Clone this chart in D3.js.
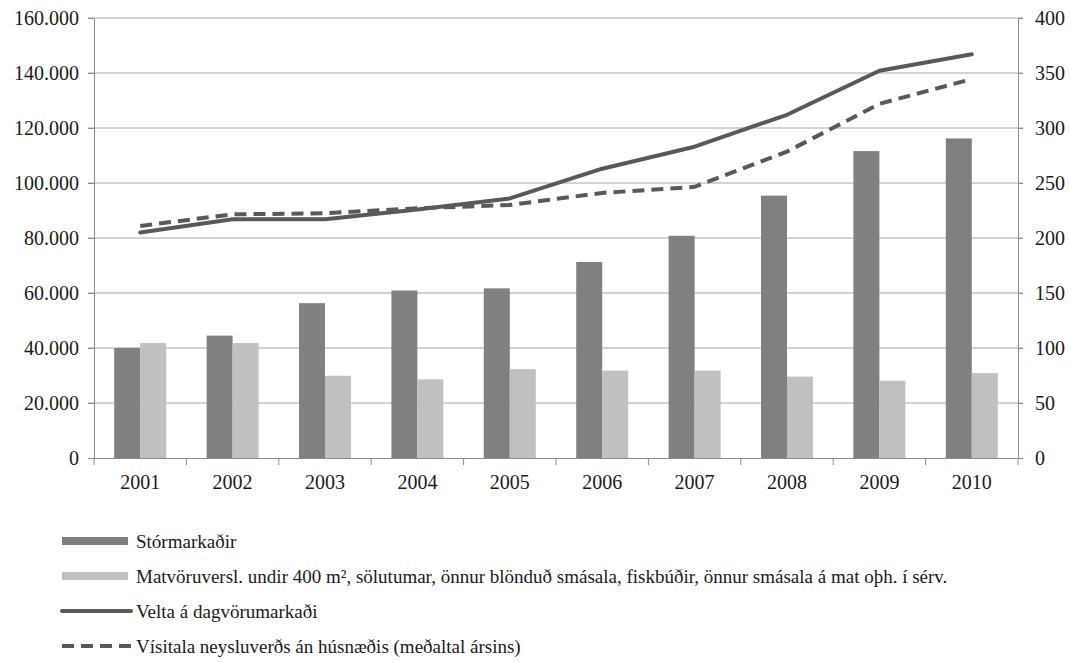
<!DOCTYPE html>
<html>
<head>
<meta charset="utf-8">
<script src="https://cdn.jsdelivr.net/npm/d3@7"></script>
</head>
<body style="margin:0">
<svg id="chart" width="1071" height="662"></svg>
<script>
// data
const years = ["2001", "2002", "2003", "2004", "2005", "2006", "2007", "2008", "2009", "2010"];
const stormarkadir = [40000, 44500, 56300, 60900, 61700, 71300, 80800, 95400, 111600, 116200];
const smaverslanir = [41800, 41800, 29900, 28600, 32300, 31800, 31800, 29600, 28100, 30900];
const velta = [205, 217, 217, 226, 236, 263, 283, 312, 352, 367];
const visitala = [211, 221.5, 222.5, 227, 230, 241, 246.5, 278.5, 322, 344.5];
const leftTicks = [0, 20000, 40000, 60000, 80000, 100000, 120000, 140000, 160000];
const rightTicks = [0, 50, 100, 150, 200, 250, 300, 350, 400];
const legendNames = [
  "Stórmarkaðir",
  "Matvöruversl. undir 400 m², sölutumar, önnur blönduð smásala, fiskbúðir, önnur smásala á mat oþh. í sérv.",
  "Velta á dagvörumarkaði",
  "Vísitala neysluverðs án húsnæðis (meðaltal ársins)"
];

const svg = d3.select("#chart");
const m = { left: 94, right: 1018, top: 18, bottom: 458 };

const x = d3.scaleBand().domain(years).range([m.left, m.right]);
const y = d3.scaleLinear().domain([0, 160000]).range([m.bottom, m.top]);
const y2 = d3.scaleLinear().domain([0, 400]).range([m.bottom, m.top]);
const barW = 26;

const fmt = d => d === 0 ? "0" : d3.format(",")(d).replace(/,/g, ".");

// gridlines (stick out a bit on both sides like tick marks)
svg.append("g").selectAll("line").data(leftTicks.slice(1)).join("line")
  .attr("x1", m.left - 6).attr("x2", m.right + 5)
  .attr("y1", d => y(d)).attr("y2", d => y(d))
  .attr("stroke", "#a6a6a6").attr("stroke-width", 1);

// bars
svg.append("g").selectAll("rect").data(stormarkadir).join("rect")
  .attr("x", (d, i) => x(years[i]) + x.bandwidth() / 2 - barW)
  .attr("y", d => y(d)).attr("width", barW).attr("height", d => m.bottom - y(d))
  .attr("fill", "#808080");
svg.append("g").selectAll("rect").data(smaverslanir).join("rect")
  .attr("x", (d, i) => x(years[i]) + x.bandwidth() / 2)
  .attr("y", d => y(d)).attr("width", barW).attr("height", d => m.bottom - y(d))
  .attr("fill", "#c0c0c0");

function styleAxis(g) {
  g.attr("font-family", null).attr("font-size", null);
  g.selectAll("line, path").attr("stroke", "#8c8c8c");
  g.selectAll("text")
    .style("font-family", d => "'Times New Roman'")
    .style("font-size", "20px")
    .attr("fill", "#1a1a1a");
}

// axes
svg.append("g").attr("transform", `translate(${m.left},0)`)
  .call(d3.axisLeft(y).tickValues(leftTicks).tickFormat(fmt).tickSize(6).tickPadding(9))
  .call(styleAxis);

svg.append("g").attr("transform", `translate(${m.right},0)`)
  .call(d3.axisRight(y2).tickValues(rightTicks).tickSize(5).tickPadding(12))
  .call(styleAxis);

svg.append("g").attr("transform", `translate(0,${m.bottom})`)
  .call(d3.axisBottom(x).tickSize(0).tickPadding(17))
  .call(styleAxis);
// category separators
svg.append("g").selectAll("line").data(d3.range(years.length + 1)).join("line")
  .attr("x1", i => m.left + i * x.step()).attr("x2", i => m.left + i * x.step())
  .attr("y1", m.bottom).attr("y2", m.bottom + 7)
  .attr("stroke", "#8c8c8c");

// lines
const line = d3.line().x((d, i) => x(years[i]) + x.bandwidth() / 2).y(d => y2(d));
svg.append("path").datum(velta).attr("d", line)
  .attr("fill", "none").attr("stroke", "#595959").attr("stroke-width", 4)
  .attr("stroke-linejoin", "round").attr("stroke-linecap", "round");
svg.append("path").datum(visitala).attr("d", line)
  .attr("fill", "none").attr("stroke", "#595959").attr("stroke-width", 4)
  .attr("stroke-dasharray", "12,7").attr("stroke-linecap", "butt");

// legend
const legendY = [541, 576, 611, 646];
const lg = svg.append("g");
lg.append("rect").attr("x", 62).attr("y", legendY[0] - 4).attr("width", 66).attr("height", 8).attr("fill", "#808080");
lg.append("rect").attr("x", 62).attr("y", legendY[1] - 4).attr("width", 66).attr("height", 8).attr("fill", "#c0c0c0");
lg.append("line").attr("x1", 62).attr("x2", 131).attr("y1", legendY[2]).attr("y2", legendY[2])
  .attr("stroke", "#595959").attr("stroke-width", 4).attr("stroke-linecap", "round");
lg.append("line").attr("x1", 62).attr("x2", 131).attr("y1", legendY[3]).attr("y2", legendY[3])
  .attr("stroke", "#595959").attr("stroke-width", 4).attr("stroke-dasharray", "12,7");
lg.selectAll("text").data(legendNames).join("text")
  .attr("x", 136).attr("y", (d, i) => legendY[i]).attr("dy", "0.35em")
  .style("font-family", d => "'Times New Roman'").style("font-size", "19px")
  .attr("fill", "#1a1a1a")
  .text(d => d);
</script>
</body>
</html>
